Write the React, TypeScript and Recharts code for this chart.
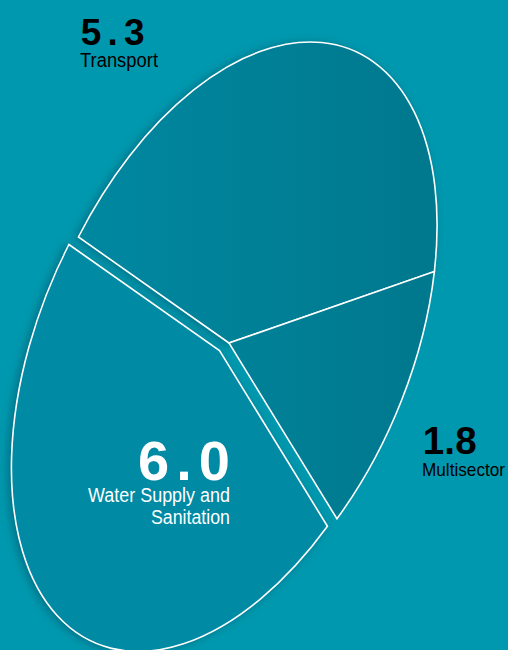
import React from 'react';
import { PieChart, Pie, Cell } from 'recharts';

// ---- data ----
const categories = ['Transport', 'Multisector', 'Water Supply and Sanitation'];
const values = [5.3, 1.8, 6.0];
const nameLines = [['Transport'], ['Multisector'], ['Water Supply and', 'Sanitation']];

const data = categories.map((name, i) => ({ name, value: values[i] }));

const W = 508;
const H = 650;
const CX = 229;
const CY = 343;
const SX = 3.178;
const SY = 1.814;
const ROT = -67;

const numFont = "'Liberation Sans', Arial, sans-serif";
const nameFont = "'Liberation Sans Narrow', 'Arial Narrow', 'Liberation Sans', Arial, sans-serif";

const renderLabel = (props: any) => {
  const { cx, cy, index } = props;
  const v = values[index].toFixed(1);
  const lines = nameLines[index];
  if (index === 0) {
    return (
      <g>
        <text x={cx - 148.3} y={cy - 298} fill="#000" fontFamily={numFont} fontWeight={700} fontSize={37} textLength={64} lengthAdjust="spacing">{v}</text>
        <text x={cx - 149} y={cy - 276.3} fill="#000" fontFamily={nameFont} fontSize={20} textLength={78} lengthAdjust="spacingAndGlyphs">{lines[0]}</text>
      </g>
    );
  }
  if (index === 1) {
    return (
      <g>
        <text x={cx + 193.7} y={cy + 111.3} fill="#000" fontFamily={numFont} fontWeight={700} fontSize={38.5} textLength={54} lengthAdjust="spacing">{v}</text>
        <text x={cx + 193} y={cy + 132.7} fill="#000" fontFamily={nameFont} fontSize={19} textLength={83} lengthAdjust="spacingAndGlyphs">{lines[0]}</text>
      </g>
    );
  }
  return (
    <g>
      <text x={cx + 1} y={cy + 137} fill="#fff" textAnchor="end" fontFamily={numFont} fontWeight={700} fontSize={56} textLength={92} lengthAdjust="spacing">{v}</text>
      <text x={cx + 1} y={cy + 158.7} fill="#fff" textAnchor="end" fontFamily={nameFont} fontSize={19.5} textLength={142} lengthAdjust="spacingAndGlyphs">{lines[0]}</text>
      <text x={cx + 1} y={cy + 181} fill="#fff" textAnchor="end" fontFamily={nameFont} fontSize={19.5} textLength={79} lengthAdjust="spacingAndGlyphs">{lines[1]}</text>
    </g>
  );
};

const fills = ['url(#gradT)', 'url(#gradT)', '#008aa4'];
const classes = ['slice shadowed', 'slice', 'slice water shadowed'];

const css = `
.slice { transform-origin: ${CX}px ${CY}px; transform: rotate(${ROT}deg) scale(${SX}, ${SY}); vector-effect: non-scaling-stroke; }
.slice.water { transform: translate(-9.5px, 7.5px) rotate(${ROT}deg) scale(${SX}, ${SY}); }
.recharts-pie-sector:has(.shadowed) { filter: drop-shadow(-3px 1px 4px rgba(0,40,60,0.35)); }
`;

export default function App() {
  const inv = `translate(${CX} ${CY}) scale(${1 / SX} ${1 / SY}) rotate(${-ROT}) translate(${-CX} ${-CY})`;
  return (
    <div style={{ position: 'absolute', left: 0, top: 0, width: W, height: H, background: '#0098ae', overflow: 'hidden' }}>
      <style>{css}</style>
      <svg width={0} height={0} style={{ position: 'absolute' }}>
        <defs>
          <linearGradient id="gradT" gradientUnits="userSpaceOnUse" x1={80} y1={0} x2={437} y2={0} gradientTransform={inv}>
            <stop offset="0" stopColor="#0088a1" />
            <stop offset="1" stopColor="#00788d" />
          </linearGradient>
        </defs>
      </svg>
      <PieChart width={W} height={H} margin={{ top: 0, right: 0, bottom: 0, left: 0 }}>
        <Pie
          data={data}
          dataKey="value"
          nameKey="name"
          cx={CX}
          cy={CY}
          innerRadius={0}
          outerRadius={100}
          startAngle={83}
          endAngle={-277}
          stroke="#ffffff"
          strokeWidth={1.6}
          label={renderLabel}
          labelLine={false}
          isAnimationActive={false}
        >
          {data.map((d, i) => (
            <Cell key={d.name} fill={fills[i]} className={classes[i]} />
          ))}
        </Pie>
      </PieChart>
    </div>
  );
}
